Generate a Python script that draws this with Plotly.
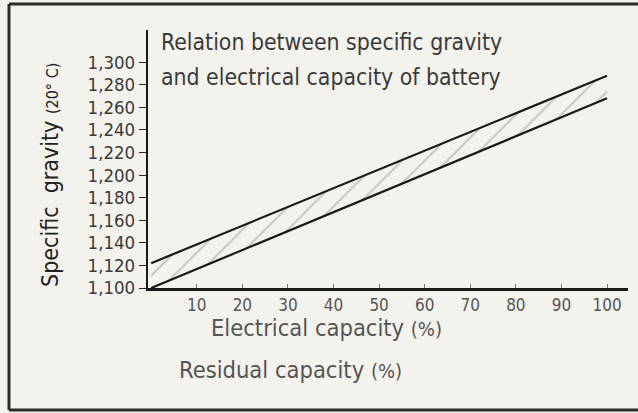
import plotly.graph_objects as go

# Capacity (%) and specific gravity band limits at 20 °C
capacity = [0, 100]
sg_upper = [1.122, 1.288]
sg_lower = [1.100, 1.268]

x_ticks = [10, 20, 30, 40, 50, 60, 70, 80, 90, 100]
y_ticks = [1.10, 1.12, 1.14, 1.16, 1.18, 1.20, 1.22, 1.24, 1.26, 1.28, 1.30]
y_tick_text = ["1,100", "1,120", "1,140", "1,160", "1,180", "1,200",
               "1,220", "1,240", "1,260", "1,280", "1,300"]

title_lines = ["Relation between specific gravity",
               "and electrical capacity of battery"]

W, H = 638, 413
L, R, T, B = 148, 10, 30, 125
PW, PH = W - L - R, H - T - B

FONT = "Liberation Sans Narrow, DejaVu Sans Condensed, Arial Narrow, sans-serif"
BG = "#f4f2ec"
INK = "#3a3a3a"


def px(x):
    return (x - L) / PW


def py(y):
    return (H - B - y) / PH


fig = go.Figure()

fig.add_trace(go.Scatter(
    x=capacity, y=sg_lower, mode="lines",
    line=dict(color="#1a1a1a", width=2.2), hoverinfo="skip", showlegend=False))
fig.add_trace(go.Scatter(
    x=capacity, y=sg_upper, mode="lines", fill="tonexty",
    fillcolor="rgba(0,0,0,0)",
    fillpattern=dict(shape="/", fgcolor="#9a9a9a", bgcolor="rgba(0,0,0,0)",
                     size=16, solidity=0.12),
    line=dict(color="#1a1a1a", width=2.2), hoverinfo="skip", showlegend=False))

fig.update_xaxes(
    range=[-0.7, 104.6], tickvals=x_ticks, ticktext=[str(v) for v in x_ticks],
    ticks="inside", ticklen=4, tickcolor="#777", tickwidth=1,
    showline=True, linecolor="#1a1a1a", linewidth=2.5,
    showgrid=False, zeroline=False,
    tickfont=dict(family=FONT, size=17, color="#555"))
fig.update_yaxes(
    range=[1.100, 1.3285], tickvals=y_ticks, ticktext=y_tick_text,
    ticks="outside", ticklen=7, tickcolor="#222", tickwidth=1.3,
    showline=True, linecolor="#1a1a1a", linewidth=2.2,
    showgrid=False, zeroline=False,
    tickfont=dict(family=FONT, size=18.5, color=INK))

annotations = [
    dict(text=title_lines[0], x=px(159), y=py(42), xanchor="left", yanchor="middle",
         font=dict(family=FONT, size=22.8, color=INK)),
    dict(text=title_lines[1], x=px(159), y=py(77), xanchor="left", yanchor="middle",
         font=dict(family=FONT, size=22.8, color=INK)),
    dict(text="Specific  gravity <span style='font-size:16px'>(20° C)</span>",
         x=px(50), y=py(175), xanchor="center", yanchor="middle", textangle=-90,
         font=dict(family=FONT, size=23, color="#222")),
    dict(text="Electrical capacity <span style='font-size:20px'>(%)</span>",
         x=px(326), y=py(328), xanchor="center", yanchor="middle",
         font=dict(family=FONT, size=23.5, color="#555")),
    dict(text="Residual capacity <span style='font-size:20px'>(%)</span>",
         x=px(290), y=py(370), xanchor="center", yanchor="middle",
         font=dict(family=FONT, size=23.5, color="#555")),
]
for a in annotations:
    a.update(xref="paper", yref="paper", showarrow=False)

# Printed frame: left, top and bottom rules
frame = [
    dict(x0=px(9), x1=px(9), y0=py(4), y1=py(410)),
    dict(x0=px(9), x1=px(645), y0=py(4), y1=py(4)),
    dict(x0=px(9), x1=px(645), y0=py(410), y1=py(410)),
]
shapes = [dict(type="line", xref="paper", yref="paper",
               line=dict(color="#2a2a2a", width=3), **f) for f in frame]

fig.update_layout(
    width=W, height=H, margin=dict(l=L, r=R, t=T, b=B),
    paper_bgcolor=BG, plot_bgcolor=BG,
    annotations=annotations, shapes=shapes, showlegend=False)

fig.write_html("out.html")
